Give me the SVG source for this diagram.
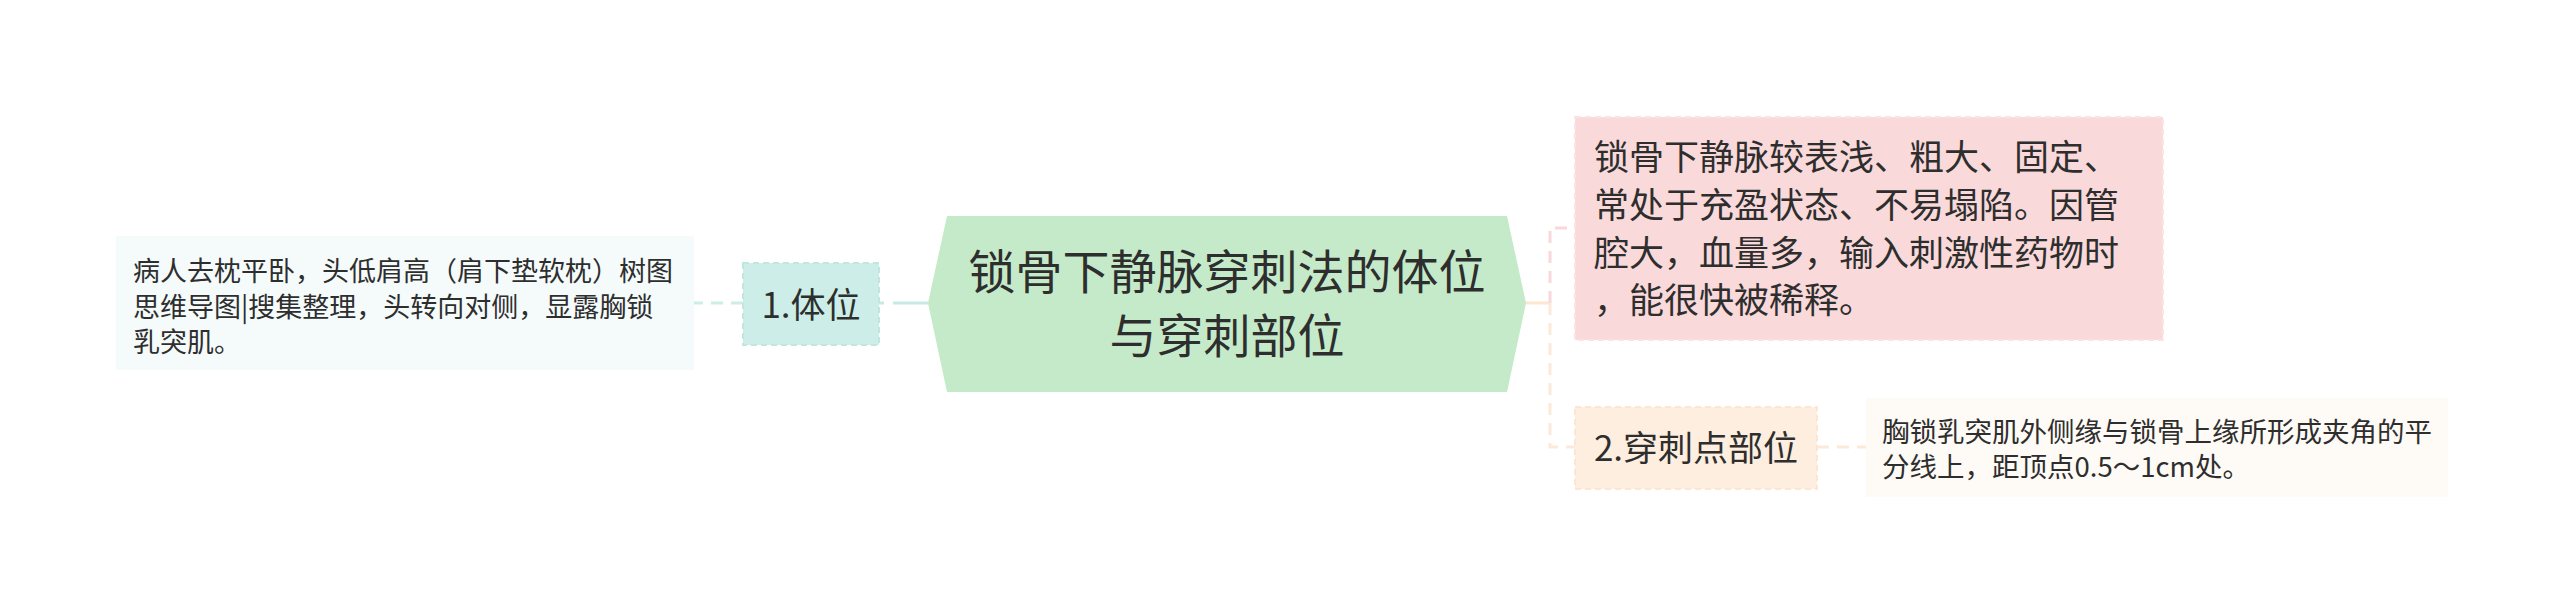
<svg xmlns="http://www.w3.org/2000/svg" width="2560" height="615" viewBox="0 0 2560 615">
<style>
  text { font-family: "Noto Sans CJK SC", "Noto Sans", sans-serif; fill: #2e2e2e; }
  .root { font-size: 47px; }
  .topic { font-size: 35px; }
  .detail { font-size: 27px; }
  .detail2 { font-size: 27.5px; }
  .pinkt { font-size: 35px; }
  .dash { fill: none; stroke-width: 3; stroke-dasharray: 12 8; }
  .solid { fill: none; stroke-width: 3; }
</style>
<rect x="0" y="0" width="2560" height="615" fill="#ffffff"/>

<g id="connectors">
  <line x1="928" y1="303" x2="893" y2="303" class="solid" stroke="#c7ebe4"/>
  <line x1="884" y1="303" x2="879" y2="303" class="solid" stroke="#c7ebe4"/>
  <line x1="743" y1="303" x2="694" y2="303" class="dash" stroke="#cdeee8"/>
  <line x1="1526" y1="303" x2="1550" y2="303" class="solid" stroke="#fde6d0"/>
  <path d="M1550,303 V228 H1575" class="dash" stroke="#f8d8da"/>
  <path d="M1550,303 V447 H1575" class="dash" stroke="#fce9d8"/>
  <line x1="1817" y1="447" x2="1866" y2="447" class="dash" stroke="#fce9d8"/>
</g>

<g id="root">
  <polygon points="928,303 947,216 1507,216 1526,303 1507,392 947,392" fill="#c5eac9"/>
  <text class="root" x="1227" y="289" text-anchor="middle">锁骨下静脉穿刺法的体位</text>
  <text class="root" x="1227" y="353" text-anchor="middle">与穿刺部位</text>
</g>

<g id="topic1">
  <rect x="743" y="263" width="136" height="82" fill="#cdeee8" stroke="#c0e6df" stroke-width="2" stroke-dasharray="6 4"/>
  <text class="topic" x="811" y="318" text-anchor="middle">1.体位</text>
</g>

<g id="detail1">
  <rect x="116" y="236" width="578" height="134" fill="#f5fbfb"/>
  <text class="detail" x="133" y="281">病人去枕平卧，头低肩高（肩下垫软枕）树图</text>
  <text class="detail" x="133" y="317">思维导图|搜集整理，头转向对侧，显露胸锁</text>
  <text class="detail" x="133" y="352">乳突肌。</text>
</g>

<g id="note1">
  <rect x="1575" y="117" width="588" height="223" fill="#f9d9da" stroke="#fbe3e4" stroke-width="2" stroke-dasharray="6 4"/>
  <text class="pinkt" x="1594" y="170">锁骨下静脉较表浅、粗大、固定、</text>
  <text class="pinkt" x="1594" y="218">常处于充盈状态、不易塌陷。因管</text>
  <text class="pinkt" x="1594" y="266">腔大，血量多，输入刺激性药物时</text>
  <text class="pinkt" x="1594" y="313">，能很快被稀释。</text>
</g>

<g id="topic2">
  <rect x="1575" y="407" width="242" height="82" fill="#fdeedf" stroke="#fbe6d3" stroke-width="2" stroke-dasharray="6 4"/>
  <text class="topic" x="1696" y="461" text-anchor="middle">2.穿刺点部位</text>
</g>

<g id="detail2">
  <rect x="1866" y="398" width="582" height="99" fill="#fefaf5"/>
  <text class="detail2" x="1882" y="442">胸锁乳突肌外侧缘与锁骨上缘所形成夹角的平</text>
  <text class="detail2" x="1882" y="477">分线上，距顶点0.5～1cm处。</text>
</g>
</svg>
